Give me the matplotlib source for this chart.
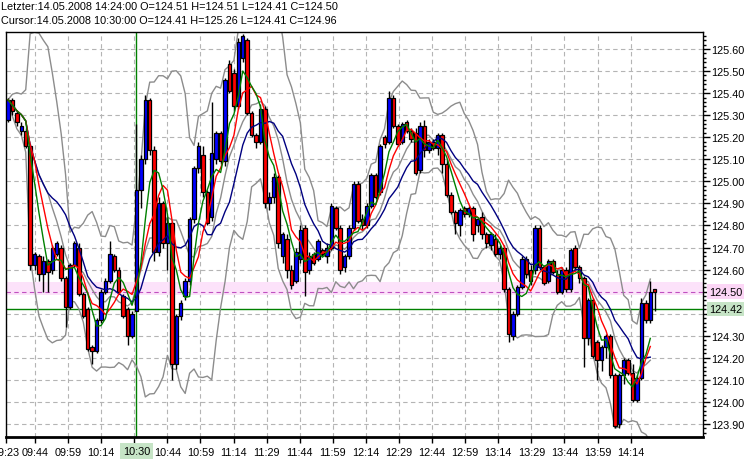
import matplotlib
matplotlib.use('Agg')
import matplotlib.pyplot as plt
import matplotlib.transforms as mtransforms
from matplotlib.ticker import MultipleLocator, FuncFormatter
import numpy as np
import pandas as pd

plt.rcParams['font.family'] = ['Liberation Sans', 'DejaVu Sans']

# 2-minute bars (bar 29 = 10:30 cursor bar, last bar = 14:24)
opens = [125.28, 125.37, 125.31, 125.23, 125.23, 125.16, 124.62, 124.66, 124.58, 124.64,
         124.60, 124.67, 124.70, 124.56, 124.43, 124.62, 124.70, 124.49, 124.42, 124.25,
         124.23, 124.37, 124.50, 124.55, 124.66, 124.60, 124.48, 124.42, 124.30, 124.41,
         124.96, 125.10, 125.37, 125.14, 124.68, 124.90, 124.72, 124.81, 124.17, 124.39,
         124.48, 124.55, 124.83, 125.06, 125.12, 124.95, 124.84, 125.10, 125.22, 125.09,
         125.53, 125.49, 125.34, 125.56, 125.64, 125.31, 125.21, 125.18, 125.33, 124.90,
         124.93, 125.02, 124.66, 124.74, 124.60, 124.55, 124.65, 124.79, 124.60, 124.67,
         124.65, 124.69, 124.66, 124.70, 124.88, 124.79, 124.61, 124.66, 124.79, 124.99,
         124.83, 124.80, 124.89, 125.03, 124.95, 125.20, 125.18, 125.38, 125.25, 125.18,
         125.27, 125.23, 125.22, 125.05, 125.25, 125.14, 125.18, 125.15, 125.21, 125.08,
         124.94, 124.86, 124.80, 124.88, 124.85, 124.88, 124.80, 124.84, 124.76, 124.71,
         124.74, 124.67, 124.70, 124.51, 124.30, 124.40, 124.52, 124.65, 124.60, 124.60,
         124.79, 124.61, 124.55, 124.64, 124.58, 124.50, 124.60, 124.51, 124.70, 124.61,
         124.56, 124.29, 124.46, 124.27, 124.19, 124.25, 124.30, 124.12, 123.90, 124.12,
         124.19, 124.13, 124.01, 124.11, 124.45, 124.37, 124.51]
highs = [125.38, 125.38, 125.32, 125.27, 125.24, 125.17, 124.68, 124.67, 124.66, 124.65,
         124.71, 124.73, 124.71, 124.57, 124.63, 124.73, 124.72, 124.50, 124.43, 124.26,
         124.38, 124.51, 124.56, 124.73, 124.67, 124.61, 124.49, 124.43, 124.41, 125.26,
         125.12, 125.39, 125.38, 125.16, 124.93, 124.91, 124.84, 124.82, 124.40, 124.46,
         124.56, 124.84, 125.07, 125.18, 125.16, 124.96, 125.36, 125.23, 125.23, 125.47,
         125.55, 125.51, 125.65, 125.67, 125.65, 125.32, 125.22, 125.35, 125.34, 124.95,
         125.04, 125.03, 124.77, 124.76, 124.62, 124.70, 124.80, 124.80, 124.68, 124.68,
         124.74, 124.70, 124.72, 124.90, 124.89, 124.80, 124.67, 124.80, 125.00, 125.00,
         124.85, 124.90, 125.04, 125.04, 125.17, 125.21, 125.41, 125.39, 125.26, 125.27,
         125.28, 125.24, 125.24, 125.27, 125.28, 125.19, 125.19, 125.22, 125.22, 125.10,
         124.95, 124.87, 124.88, 124.89, 124.89, 124.89, 124.84, 124.86, 124.77, 124.77,
         124.76, 124.71, 124.71, 124.52, 124.41, 124.53, 124.66, 124.66, 124.62, 124.80,
         124.80, 124.62, 124.65, 124.65, 124.60, 124.61, 124.61, 124.70, 124.71, 124.62,
         124.57, 124.47, 124.47, 124.28, 124.26, 124.31, 124.31, 124.13, 124.13, 124.20,
         124.20, 124.17, 124.12, 124.47, 124.46, 124.55, 124.51]
lows = [125.27, 125.30, 125.25, 125.21, 125.15, 124.60, 124.60, 124.55, 124.50, 124.50,
        124.58, 124.66, 124.55, 124.34, 124.42, 124.61, 124.48, 124.38, 124.23, 124.17,
        124.22, 124.36, 124.49, 124.54, 124.59, 124.49, 124.38, 124.26, 124.29, 124.41,
        124.88, 125.08, 125.12, 124.64, 124.66, 124.70, 124.60, 124.10, 124.15, 124.37,
        124.46, 124.53, 124.81, 125.04, 124.93, 124.80, 124.82, 125.08, 125.08, 125.07,
        125.40, 125.32, 125.33, 125.54, 125.30, 125.20, 125.15, 125.17, 124.88, 124.87,
        124.90, 124.70, 124.63, 124.56, 124.51, 124.54, 124.63, 124.48, 124.58, 124.62,
        124.64, 124.66, 124.63, 124.69, 124.78, 124.58, 124.59, 124.65, 124.78, 124.81,
        124.78, 124.79, 124.88, 124.92, 124.94, 125.15, 125.17, 125.24, 125.16, 125.17,
        125.22, 125.18, 125.03, 125.04, 125.11, 125.13, 125.14, 125.12, 125.04, 124.93,
        124.85, 124.76, 124.75, 124.84, 124.84, 124.73, 124.77, 124.74, 124.70, 124.69,
        124.66, 124.65, 124.50, 124.27, 124.28, 124.39, 124.51, 124.56, 124.53, 124.58,
        124.60, 124.53, 124.54, 124.58, 124.49, 124.49, 124.50, 124.50, 124.60, 124.54,
        124.16, 124.26, 124.20, 124.10, 124.14, 124.20, 124.11, 123.88, 123.88, 124.08,
        124.12, 124.00, 124.00, 124.10, 124.36, 124.36, 124.41]
closes = [125.37, 125.32, 125.27, 125.25, 125.16, 124.62, 124.67, 124.58, 124.64, 124.59,
          124.70, 124.72, 124.56, 124.43, 124.62, 124.72, 124.49, 124.39, 124.24, 124.23,
          124.37, 124.50, 124.55, 124.67, 124.60, 124.50, 124.39, 124.30, 124.40, 124.96,
          125.10, 125.37, 125.14, 124.68, 124.90, 124.72, 124.81, 124.17, 124.39, 124.45,
          124.55, 124.83, 125.06, 125.16, 124.95, 124.81, 125.13, 125.22, 125.09, 125.46,
          125.41, 125.34, 125.63, 125.66, 125.31, 125.21, 125.18, 125.33, 124.90, 124.93,
          125.02, 124.72, 124.76, 124.60, 124.53, 124.68, 124.78, 124.59, 124.66, 124.63,
          124.73, 124.67, 124.70, 124.89, 124.79, 124.60, 124.66, 124.79, 124.99, 124.82,
          124.80, 124.89, 125.03, 124.93, 125.16, 125.17, 125.38, 125.25, 125.17, 125.26,
          125.23, 125.19, 125.04, 125.25, 125.14, 125.18, 125.15, 125.21, 125.08, 124.94,
          124.86, 124.81, 124.87, 124.85, 124.88, 124.76, 124.83, 124.76, 124.72, 124.76,
          124.67, 124.70, 124.51, 124.31, 124.40, 124.52, 124.65, 124.58, 124.55, 124.79,
          124.61, 124.54, 124.64, 124.59, 124.50, 124.60, 124.51, 124.69, 124.61, 124.56,
          124.29, 124.46, 124.21, 124.19, 124.25, 124.30, 124.12, 123.89, 124.12, 124.19,
          124.13, 124.01, 124.11, 124.45, 124.37, 124.50, 124.50]

time_labels = ['09:23', '09:44', '09:59', '10:14', '10:30', '10:44', '10:59', '11:14',
               '11:29', '11:44', '11:59', '12:14', '12:29', '12:44', '12:59', '13:14',
               '13:29', '13:44', '13:59', '14:14']
header_last = 'Letzter:14.05.2008 14:24:00 O=124.51 H=124.51 L=124.41 C=124.50'
header_cursor = 'Cursor:14.05.2008 10:30:00 O=124.41 H=125.26 L=124.41 C=124.96'
cursor_bar = 29
cursor_label = '10:30'
last_price = 124.50
marker_price = 124.42

MA_FAST, MA_MID, MA_SLOW = 5, 7, 14
BB_LEN = 10

o = np.array(opens)
h = np.array(highs)
l = np.array(lows)
c = np.array(closes)
n = len(c)
x = np.arange(n)

s = pd.Series(c)
ma_fast = s.rolling(MA_FAST, min_periods=1).mean()
ma_mid = s.rolling(MA_MID, min_periods=1).mean()
ma_slow = s.rolling(MA_SLOW, min_periods=1).mean()
bb_mid = s.rolling(BB_LEN, min_periods=1).mean()
bb_sd = s.rolling(BB_LEN, min_periods=1).std(ddof=0)
bb_up = bb_mid + 2 * bb_sd
bb_lo = bb_mid - 2 * bb_sd

fig = plt.figure(figsize=(7.5, 4.64), dpi=100)
ax = fig.add_axes([6 / 750, 1 - 438 / 464, 697 / 750, 405 / 464])

# marker band / lines behind the candles
ax.axhspan(last_price - 0.015, last_price + 0.045, color='#fce2fa', lw=0, zorder=1)
ax.axhline(last_price, color='#c050c0', lw=0.8, ls=(0, (4, 3)), zorder=1.5)
ax.axhline(marker_price, color='#008000', lw=1, zorder=1.5)
ax.axvline(cursor_bar, color='#008000', lw=1, zorder=1.5)

# bollinger + moving averages (last, unfinished bar left out)
m = n - 1
for band in (bb_up, bb_lo, bb_mid):
    ax.plot(x[:m], band[:m], color='#8c8c8c', lw=1, zorder=2)

# candles
cols = np.where(c > o, '#0000ff', np.where(c < o, '#ff0000', '#000000'))
ax.vlines(x, l, h, color='black', lw=1, zorder=3)
ax.bar(x, c - o, bottom=o, width=0.78, color=cols, edgecolor='black', linewidth=0.9, zorder=4)

ax.plot(x[:m], ma_slow[:m], color='#000080', lw=1, zorder=5)
ax.plot(x[:m], ma_mid[:m], color='#ff0000', lw=1, zorder=5)
ax.plot(x[:m], ma_fast[:m], color='#008000', lw=1, zorder=5)

ax.set_xlim(-0.45, 156.9)
ax.set_ylim(123.841, 125.677)

tick_pos = [-0.45] + [6.1 + 7.47 * k for k in range(len(time_labels) - 1)]
ax.set_xticks(tick_pos)
ax.set_xticklabels(['' if t == cursor_label else t for t in time_labels])

# plain labels hidden where a highlighted label sits
hidden = (124.40, last_price)
ax.yaxis.tick_right()
ax.yaxis.set_major_locator(MultipleLocator(0.1))
ax.yaxis.set_minor_locator(MultipleLocator(0.02))
ax.yaxis.set_major_formatter(FuncFormatter(
    lambda v, p: '' if any(abs(v - hv) < 1e-6 for hv in hidden) else '%.2f' % v))

ax.tick_params(axis='y', which='major', length=5, width=1, pad=1, labelsize=7.8, direction='out')
ax.tick_params(axis='y', which='minor', length=2.5, width=1, direction='out')
ax.tick_params(axis='x', which='major', length=4, width=1, pad=3, labelsize=7.8, direction='out')

ax.grid(True, which='major', color='#b4b4b4', ls=(0, (4, 3)), lw=0.8)
ax.set_axisbelow(True)

for side in ('top', 'left', 'right'):
    ax.spines[side].set_linewidth(1)
ax.spines['bottom'].set_linewidth(2)

# highlighted axis labels
ty = mtransforms.blended_transform_factory(ax.transAxes, ax.transData)
ty = mtransforms.offset_copy(ty, fig=fig, x=6, y=0, units='dots')
ax.text(1.0, last_price, '%.2f' % last_price, transform=ty, ha='left', va='center',
        fontsize=7.8, clip_on=False,
        bbox=dict(boxstyle='square,pad=0.2', facecolor='#fcd6f6', edgecolor='none'))
ax.text(1.0, marker_price, '%.2f' % marker_price, transform=ty, ha='left', va='center',
        fontsize=7.8, clip_on=False,
        bbox=dict(boxstyle='square,pad=0.2', facecolor='#c6e4c6', edgecolor='none'))

tx = mtransforms.blended_transform_factory(ax.transData, ax.transAxes)
tx = mtransforms.offset_copy(tx, fig=fig, x=0, y=-14, units='dots')
ax.text(cursor_bar, 0, cursor_label, transform=tx, ha='center', va='center',
        fontsize=7.8, clip_on=False,
        bbox=dict(boxstyle='square,pad=0.25', facecolor='#c6e4c6', edgecolor='none'))

fig.text(1 / 750, 1 - 10 / 464, header_last, fontsize=7.8, va='baseline', ha='left')
fig.text(1 / 750, 1 - 23.5 / 464, header_cursor, fontsize=7.8, va='baseline', ha='left')

fig.savefig('out.png', dpi=100, facecolor='white')
plt.close(fig)
